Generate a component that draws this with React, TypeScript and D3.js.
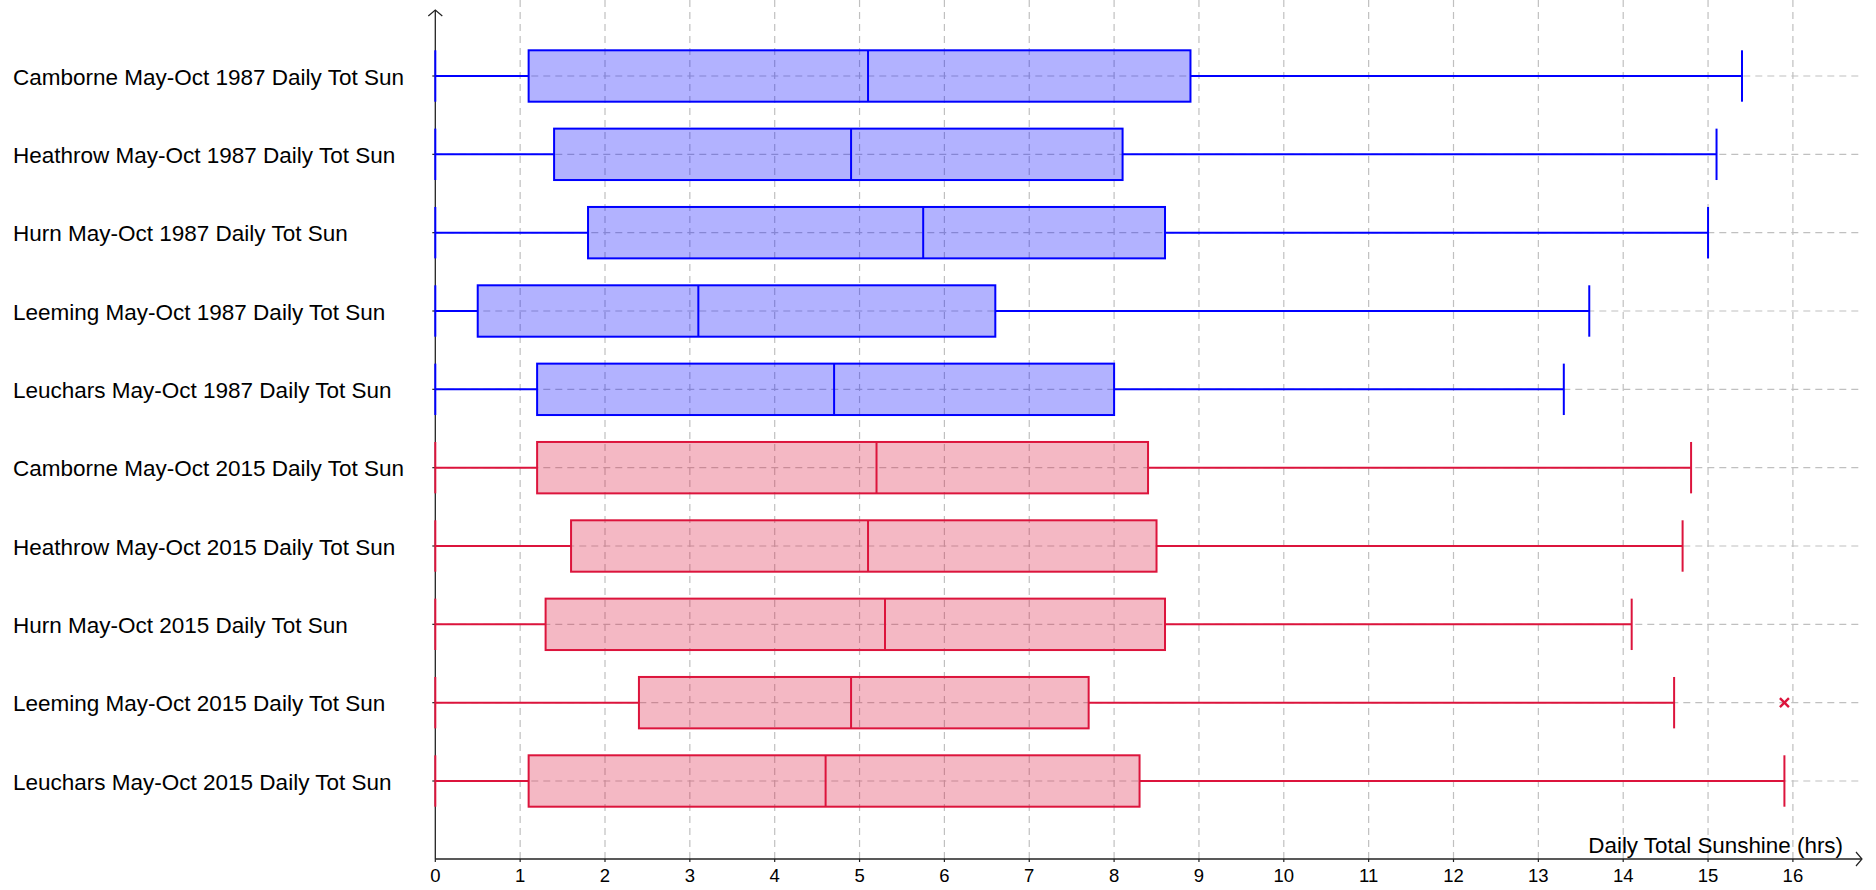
import React from "react";
import * as d3 from "d3";

const categories = [
  "Camborne May-Oct 1987 Daily Tot Sun",
  "Heathrow May-Oct 1987 Daily Tot Sun",
  "Hurn May-Oct 1987 Daily Tot Sun",
  "Leeming May-Oct 1987 Daily Tot Sun",
  "Leuchars May-Oct 1987 Daily Tot Sun",
  "Camborne May-Oct 2015 Daily Tot Sun",
  "Heathrow May-Oct 2015 Daily Tot Sun",
  "Hurn May-Oct 2015 Daily Tot Sun",
  "Leeming May-Oct 2015 Daily Tot Sun",
  "Leuchars May-Oct 2015 Daily Tot Sun",
];
const years = ["1987", "1987", "1987", "1987", "1987", "2015", "2015", "2015", "2015", "2015"];
const mins = [0, 0, 0, 0, 0, 0, 0, 0, 0, 0];
const q1s = [1.1, 1.4, 1.8, 0.5, 1.2, 1.2, 1.6, 1.3, 2.4, 1.1];
const medians = [5.1, 4.9, 5.75, 3.1, 4.7, 5.2, 5.1, 5.3, 4.9, 4.6];
const q3s = [8.9, 8.1, 8.6, 6.6, 8.0, 8.4, 8.5, 8.6, 7.7, 8.3];
const maxs = [15.4, 15.1, 15.0, 13.6, 13.3, 14.8, 14.7, 14.1, 14.6, 15.9];
const outliers: number[][] = [[], [], [], [], [], [], [], [], [15.9], []];
const xTicks = [0, 1, 2, 3, 4, 5, 6, 7, 8, 9, 10, 11, 12, 13, 14, 15, 16];
const xAxisTitle = "Daily Total Sunshine (hrs)";

const W = 1876;
const H = 890;
const X0 = 435.3;
const UNIT = 84.85;
const AXIS_Y = 859;
const TOP_Y = 10;
const RIGHT_X = 1862;
const HALF = 25.7;
const FONT = "'Liberation Sans', Arial, sans-serif";

const colors: Record<string, { stroke: string; fill: string }> = {
  "1987": { stroke: "#0000ff", fill: "rgba(0,0,255,0.3)" },
  "2015": { stroke: "#dc143c", fill: "rgba(220,20,60,0.3)" },
};

export default function App() {
  const x = d3.scaleLinear().domain([0, 16]).range([X0, X0 + 16 * UNIT]);
  const y = d3.scalePoint<string>().domain(categories).range([76, 781]).padding(0);
  const gridColor = "#c0c0c0";
  const dash = "7,5";

  return (
    <svg
      width={W}
      height={H}
      style={{ position: "absolute", left: 0, top: 0, background: "#fff" }}
      fontFamily={FONT}
    >
      <rect x={0} y={0} width={W} height={H} fill="#fff" />
      {xTicks.filter((t) => t > 0).map((t) => (
        <line
          key={"vg" + t}
          x1={x(t)}
          x2={x(t)}
          y1={0}
          y2={AXIS_Y}
          stroke={gridColor}
          strokeWidth={1.2}
          strokeDasharray={dash}
        />
      ))}
      {categories.map((c) => (
        <line
          key={"hg" + c}
          x1={X0}
          x2={RIGHT_X}
          y1={y(c)!}
          y2={y(c)!}
          stroke={gridColor}
          strokeWidth={1.2}
          strokeDasharray={dash}
        />
      ))}
      <line x1={X0} x2={RIGHT_X} y1={AXIS_Y} y2={AXIS_Y} stroke="#222" strokeWidth={1.3} />
      <line x1={X0} x2={X0} y1={TOP_Y} y2={AXIS_Y} stroke="#222" strokeWidth={1.3} />
      <polyline
        points={`${RIGHT_X - 6},${AXIS_Y - 7} ${RIGHT_X},${AXIS_Y} ${RIGHT_X - 6},${AXIS_Y + 7}`}
        fill="none"
        stroke="#222"
        strokeWidth={1.2}
      />
      <polyline
        points={`${X0 - 7},${TOP_Y + 6} ${X0},${TOP_Y} ${X0 + 7},${TOP_Y + 6}`}
        fill="none"
        stroke="#222"
        strokeWidth={1.2}
      />
      {xTicks.map((t) => (
        <g key={"xt" + t}>
          <line x1={x(t)} x2={x(t)} y1={AXIS_Y} y2={AXIS_Y + 3} stroke="#222" strokeWidth={1.2} />
          <text x={x(t)} y={AXIS_Y + 23} textAnchor="middle" fontSize={18.5} fill="#000">
            {t}
          </text>
        </g>
      ))}
      {categories.map((c) => (
        <line key={"yt" + c} x1={X0 - 3} x2={X0} y1={y(c)!} y2={y(c)!} stroke="#222" strokeWidth={1.2} />
      ))}
      <text x={1843} y={AXIS_Y - 6} textAnchor="end" fontSize={22.4} fill="#000">
        {xAxisTitle}
      </text>
      {categories.map((c) => (
        <text key={"lb" + c} x={13} y={y(c)! + 8.5} fontSize={22.5} fill="#000">
          {c}
        </text>
      ))}
      {categories.map((c, i) => {
        const cy = y(c)!;
        const col = colors[years[i]];
        return (
          <g key={"bx" + c} stroke={col.stroke} strokeWidth={2}>
            <line x1={x(mins[i])} x2={x(q1s[i])} y1={cy} y2={cy} />
            <line x1={x(q3s[i])} x2={x(maxs[i])} y1={cy} y2={cy} />
            <line x1={x(mins[i])} x2={x(mins[i])} y1={cy - HALF} y2={cy + HALF} />
            <line x1={x(maxs[i])} x2={x(maxs[i])} y1={cy - HALF} y2={cy + HALF} />
            <rect
              x={x(q1s[i])}
              y={cy - HALF}
              width={x(q3s[i]) - x(q1s[i])}
              height={HALF * 2}
              fill={col.fill}
            />
            <line x1={x(medians[i])} x2={x(medians[i])} y1={cy - HALF} y2={cy + HALF} />
            {outliers[i].map((o, k) => (
              <g key={"o" + k}>
                <line x1={x(o) - 4.5} x2={x(o) + 4.5} y1={cy - 4.5} y2={cy + 4.5} strokeWidth={2.4} />
                <line x1={x(o) - 4.5} x2={x(o) + 4.5} y1={cy + 4.5} y2={cy - 4.5} strokeWidth={2.4} />
              </g>
            ))}
          </g>
        );
      })}
    </svg>
  );
}
